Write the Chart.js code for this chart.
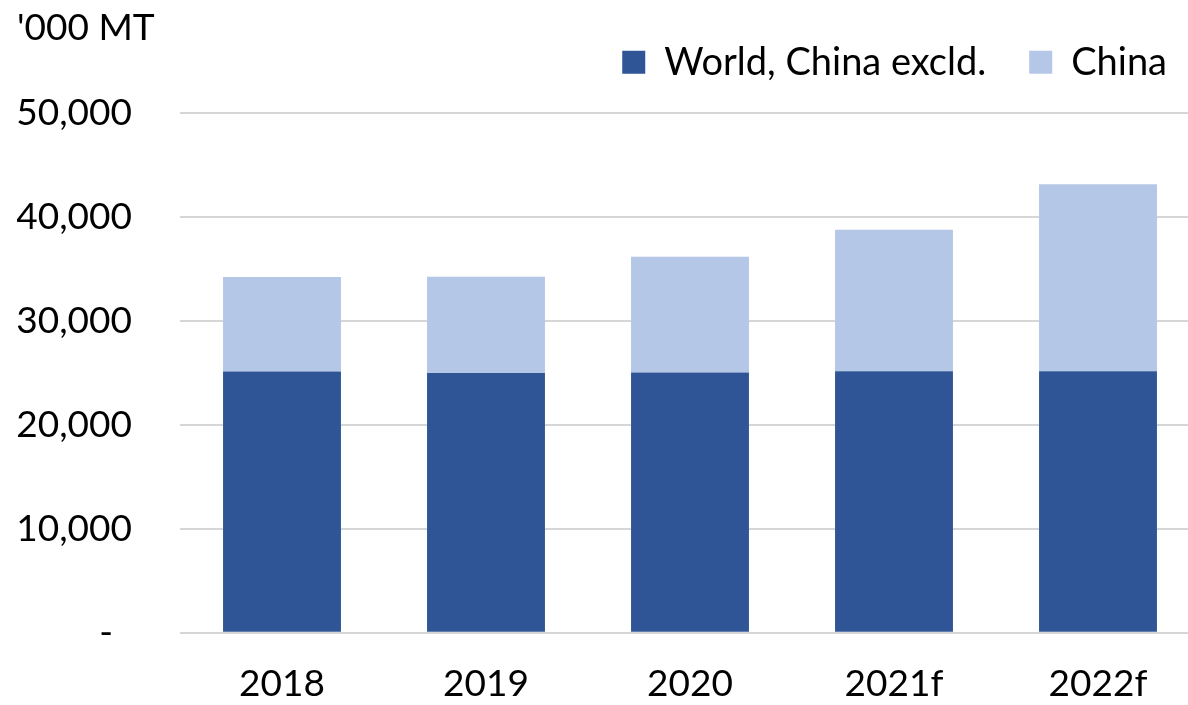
<!DOCTYPE html>
<html>
<head>
<meta charset="utf-8">
<script src="https://cdn.jsdelivr.net/npm/chart.js@4"></script>
<style>
  html, body { margin: 0; padding: 0; background: #ffffff; }
  #wrap { width: 1188px; height: 705px; overflow: hidden; position: relative; }
  canvas { display: block; }
</style>
</head>
<body>
<div id="wrap"><canvas id="c" width="1200" height="705"></canvas></div>
<script>
const categories = ['2018', '2019', '2020', '2021f', '2022f'];
const worldExChina = [25150, 25000, 25050, 25170, 25170];
const china = [9100, 9270, 11130, 13620, 17990];
const seriesNames = ['World, China excld.', 'China'];
const yTicks = [0, 10000, 20000, 30000, 40000, 50000];
const unitLabel = "'000 MT";

const FONT = 'Lato, "Open Sans", sans-serif';

// Moves the legend into the top band next to the unit label and draws the unit label.
const headerPlugin = {
  id: 'headerPlugin',
  afterLayout(chart) {
    const lg = chart.legend;
    if (!lg) return;
    const dy = -22, dx = 10;
    lg.top += dy; lg.bottom += dy;
    lg.right += dx;
  },
  afterDraw(chart) {
    const ctx = chart.ctx;
    ctx.save();
    ctx.font = '37px ' + FONT;
    ctx.fillStyle = '#000';
    ctx.textAlign = 'left';
    ctx.textBaseline = 'middle';
    ctx.fillText(unitLabel, 17, 28.2);
    ctx.restore();
  }
};

new Chart(document.getElementById('c'), {
  type: 'bar',
  data: {
    labels: categories,
    datasets: [
      { label: seriesNames[0], data: worldExChina, backgroundColor: '#2F5597', borderWidth: 0,
        barPercentage: 0.578, categoryPercentage: 1 },
      { label: seriesNames[1], data: china, backgroundColor: '#B4C7E7', borderWidth: 0,
        barPercentage: 0.578, categoryPercentage: 1 }
    ]
  },
  options: {
    responsive: false,
    animation: false,
    devicePixelRatio: 1,
    layout: { padding: { top: 22.3, left: 17, right: 0, bottom: 0 } },
    plugins: {
      title: { display: false },
      legend: {
        display: true, position: 'top', align: 'end',
        labels: {
          color: '#000', boxWidth: 23, boxHeight: 23, padding: 43,
          font: { family: FONT, size: 38 }
        }
      },
      tooltip: { enabled: false }
    },
    scales: {
      x: {
        stacked: true,
        grid: { display: false, drawTicks: false },
        border: { display: false },
        ticks: { color: '#000', padding: 29, font: { family: FONT, size: 37 }, maxRotation: 0 },
        afterFit(scale) { scale.height = 72.3; }
      },
      y: {
        stacked: true,
        min: 0, max: 50000,
        afterBuildTicks(scale) { scale.ticks = yTicks.map(v => ({ value: v })); },
        grid: { color: '#d6d6d6', lineWidth: 2, drawTicks: false, tickLength: 0 },
        border: { display: false },
        ticks: {
          color: '#000', padding: 48, font: { family: FONT, size: 37 },
          callback: (v) => v === 0 ? '-  ' : v.toLocaleString('en-US')
        },
        afterFit(scale) { scale.width = 163; }
      }
    }
  },
  plugins: [headerPlugin]
});
</script>
</body>
</html>
